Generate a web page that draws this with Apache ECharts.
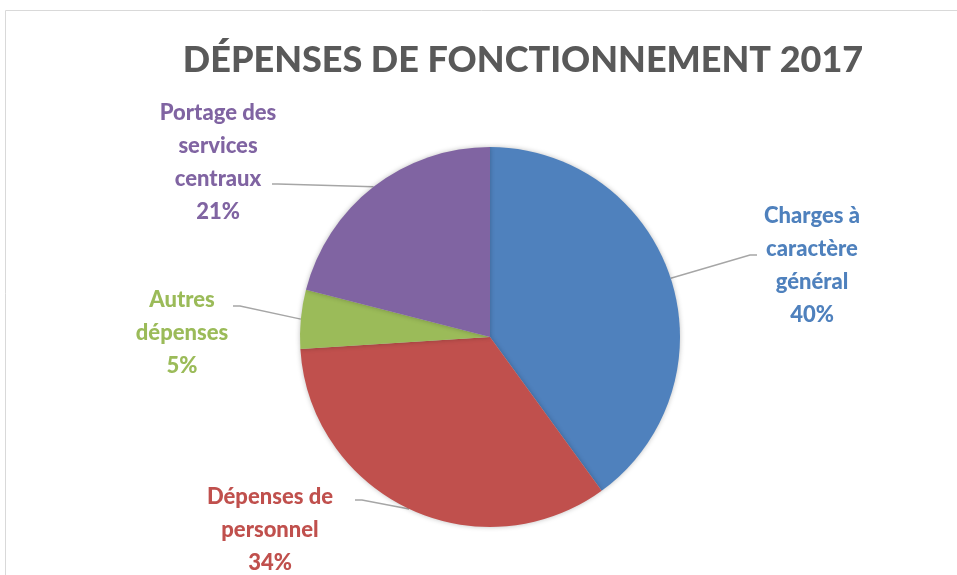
<!DOCTYPE html>
<html>
<head>
<meta charset="utf-8">
<script src="https://cdn.jsdelivr.net/npm/echarts@6/dist/echarts.min.js"></script>
<style>
  html, body { margin: 0; padding: 0; background: #fff; }
  #chart { width: 957px; height: 575px; }
</style>
</head>
<body>
<div id="chart"></div>
<script>
// chart data
const categories = [
  'Charges à\ncaractère\ngénéral',
  'Dépenses de\npersonnel',
  'Autres\ndépenses',
  'Portage des\nservices\ncentraux'
];
const shares = [40, 34, 5, 21];
const colors = ['#4F81BD', '#C0504D', '#9BBB59', '#8064A2'];

// where each label sits (centre of the text block) and the elbow of its leader line
const labelSpots = [[812, 265], [270, 530], [182, 333], [218, 162]];
const elbows = [
  [[750, 255], [757, 255]],
  [[362, 500], [355, 500]],
  [[240, 306], [233, 306]],
  [[278, 184], [272, 184]]
];

const chart = echarts.init(document.getElementById('chart'));

const option = {
  animation: false,
  title: {
    text: 'DÉPENSES DE FONCTIONNEMENT 2017',
    left: 518,
    top: 37,
    textAlign: 'center',
    textStyle: {
      fontFamily: 'Lato',
      fontWeight: 900,
      fontSize: 36,
      color: '#595959'
    }
  },
  graphic: [
    {
      type: 'rect',
      shape: { x: 5.5, y: 10.5, width: 1000, height: 700 },
      style: { fill: 'none', stroke: '#d9d9d9', lineWidth: 1 },
      silent: true
    }
  ],
  series: [
    {
      type: 'pie',
      center: [490, 337],
      radius: 190,
      startAngle: 90,
      clockwise: true,
      avoidLabelOverlap: false,
      itemStyle: {
        shadowBlur: 5,
        shadowColor: 'rgba(0,0,0,0.25)'
      },
      label: {
        show: true,
        position: 'outside',
        fontFamily: 'Lato',
        fontWeight: 900,
        fontSize: 22,
        lineHeight: 33,
        align: 'center',
        formatter: function (p) {
          return p.name + '\n' + p.value + '%';
        }
      },
      labelLine: {
        show: true,
        length: 20,
        length2: 10,
        lineStyle: { color: '#a6a6a6', width: 1.5 }
      },
      labelLayout: function (params) {
        const i = params.dataIndex;
        const spot = labelSpots[i];
        const start = params.labelLinePoints ? params.labelLinePoints[0] : null;
        const out = {
          x: spot[0],
          y: spot[1],
          align: 'center',
          verticalAlign: 'middle'
        };
        if (start) out.labelLinePoints = [start, elbows[i][0], elbows[i][1]];
        return out;
      },
      data: categories.map(function (name, i) {
        return {
          name: name,
          value: shares[i],
          itemStyle: { color: colors[i] },
          label: { color: colors[i] }
        };
      })
    }
  ]
};

chart.setOption(option);
</script>
</body>
</html>
